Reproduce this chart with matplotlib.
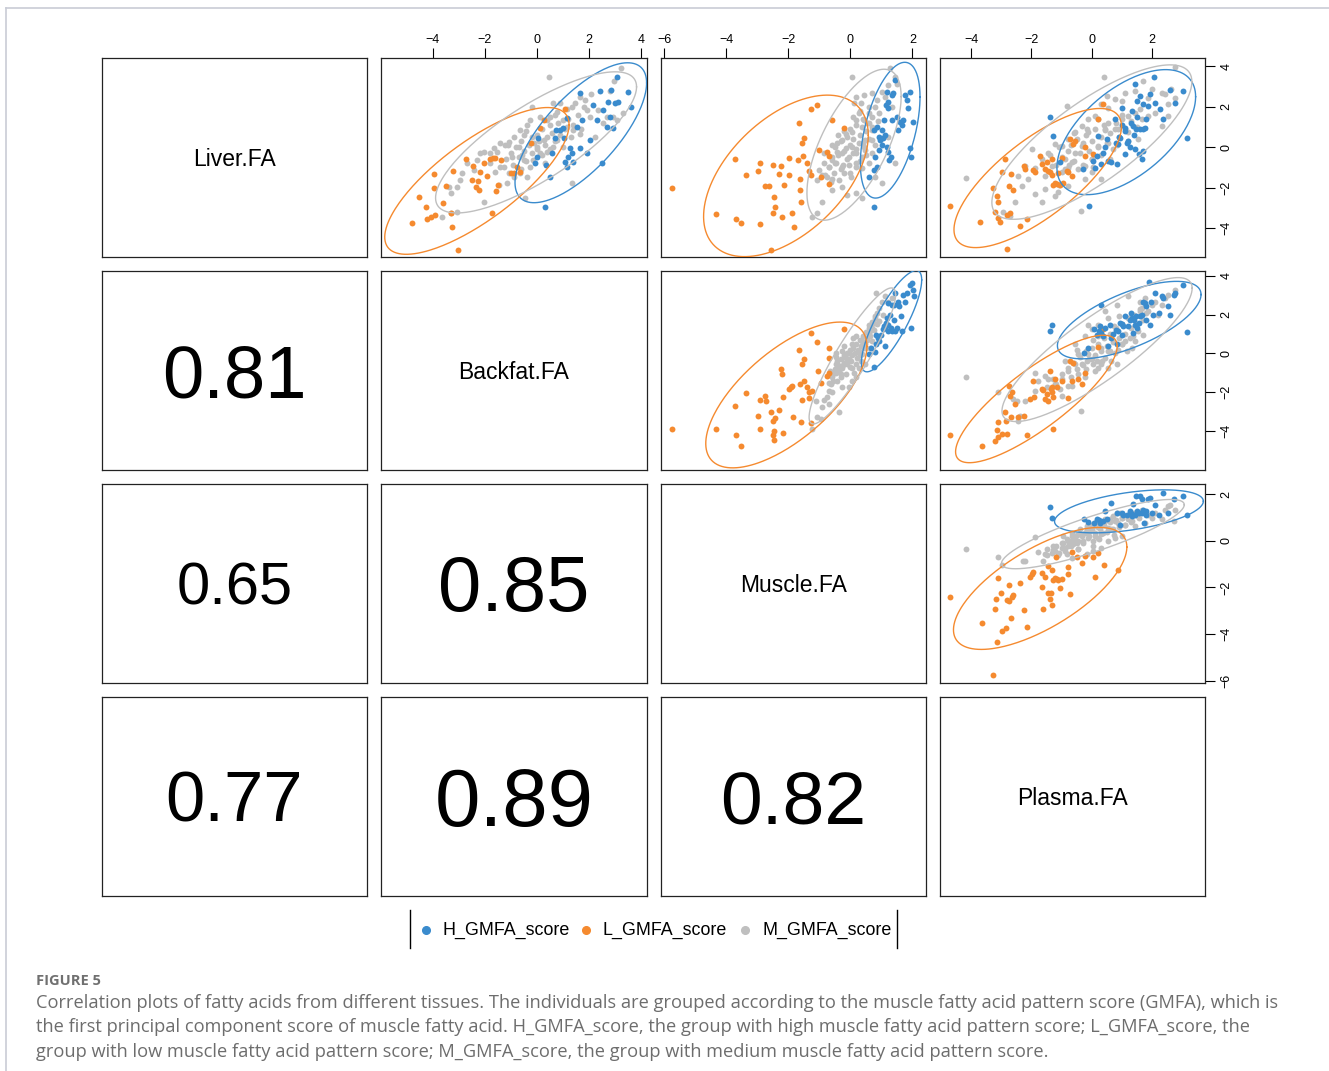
"""Pairs plot of tissue fatty-acid scores, grouped by muscle GMFA score."""
import numpy as np
import matplotlib.pyplot as plt
from matplotlib.lines import Line2D
from matplotlib.transforms import offset_copy

VARS = ["Liver.FA", "Backfat.FA", "Muscle.FA", "Plasma.FA"]
LIMITS = [(-5.43, 4.40), (-6.0, 4.24), (-6.1, 2.44), (-5.03, 3.75)]
TICKS = [[-4, -2, 0, 2, 4], [-4, -2, 0, 2, 4], [-6, -4, -2, 0, 2], [-4, -2, 0, 2]]

GROUPS = ["H_GMFA_score", "L_GMFA_score", "M_GMFA_score"]
COLORS = {"H_GMFA_score": "#3a8bcd", "L_GMFA_score": "#f58a2f", "M_GMFA_score": "#bfbfbf"}

# correlations shown in the lower triangle: (row, col) -> r
CORR_CELLS = [(1, 0), (2, 0), (2, 1), (3, 0), (3, 1), (3, 2)]
CORR_VALUES = [0.81, 0.65, 0.85, 0.77, 0.89, 0.82]

# ---- upper panels: (x, y) points ----
# Backfat (x) vs Liver (y)
BF_LIV_H = [(0.32, -2.98), (-0.09, -0.81), (0.00, -0.48), (0.06, 0.43), (0.36, -0.89), (0.51, -1.46),
            (0.60, -0.31), (0.70, 0.43), (0.73, 0.84), (0.89, 0.84), (1.00, 0.92), (1.06, 0.43),
            (1.09, -0.72), (1.15, -0.97), (1.15, 1.45), (1.21, -0.48), (1.28, -0.07), (1.34, -0.31),
            (1.41, -0.72), (1.53, 1.00), (1.66, -0.07), (1.66, 2.68), (1.73, 1.33), (1.92, -0.31),
            (2.04, 0.35), (2.17, 2.07), (2.30, 1.33), (2.43, 2.78), (2.49, -0.81), (2.56, 1.83),
            (2.69, 1.00), (2.75, 2.24), (2.85, 2.81), (2.94, 0.92), (3.00, 2.16), (3.09, 3.44),
            (3.13, 2.24), (3.51, 2.73), (3.64, 1.96), (2.81, 1.50)]
BF_LIV_L = [(-4.82, -3.74), (-4.54, -2.45), (-4.26, -2.98), (-4.22, -3.57), (-4.06, -3.47), (-3.96, -1.33),
            (-3.96, -2.01), (-3.94, -3.36), (-3.62, -2.75), (-3.51, -1.91), (-3.32, -3.28), (-3.28, -3.97),
            (-3.23, -1.17), (-3.03, -5.09), (-2.71, -0.61), (-2.47, -0.92), (-2.49, -1.63), (-2.34, -1.96),
            (-2.26, -1.66), (-2.24, -2.14), (-2.17, -1.22), (-2.04, -0.77), (-1.92, -1.43), (-1.79, -0.59),
            (-1.69, -0.54), (-1.73, -3.28), (-1.60, -0.56), (-1.56, -2.17), (-1.50, -1.86), (-1.38, -0.64),
            (-1.00, -1.30), (-0.89, -1.28), (-0.77, -0.97), (-0.66, -1.25), (-0.22, 0.18), (0.13, 0.94),
            (0.26, 1.33), (1.09, 1.89)]
BF_LIV_M = [(0.45, 3.44), (3.23, 3.92), (2.98, 3.26), (2.81, 2.78), (2.07, 2.62), (1.85, 2.32), (1.66, 2.45),
            (1.47, 2.19), (1.34, 1.96), (1.15, 1.86), (0.89, 2.16), (0.64, 2.16), (0.77, 1.74), (0.51, 1.50),
            (0.38, 1.33), (0.13, 1.50), (-0.19, 1.99), (-0.26, 1.33), (-0.38, 1.09), (-0.51, 0.59),
            (-0.64, 0.84), (-0.89, 0.51), (-1.09, 0.26), (-1.21, 0.10), (-1.41, 0.18), (-1.53, -0.23),
            (-1.66, -0.07), (-1.79, -0.31), (-2.04, -0.23), (-2.17, -0.31), (-2.30, -0.64), (-2.43, -1.14),
            (-2.68, -0.81), (-2.88, -1.30), (-2.94, -1.63), (-3.07, -1.96), (-3.32, -2.29), (-3.39, -1.96),
            (-3.64, -3.44), (-3.32, -3.28), (-3.07, -3.19), (-2.02, -2.70), (-1.47, -1.88), (-1.15, -1.79),
            (-0.89, -1.47), (-0.64, -1.30), (-0.45, -2.54), (-0.38, -1.47), (-0.26, -0.97), (-0.13, -0.64),
            (0.13, -0.31), (0.38, -0.23), (0.64, 0.02), (0.77, 0.35), (1.02, 1.33), (1.15, 1.00), (1.41, 0.84),
            (1.66, 0.67), (1.92, 1.83), (2.04, 1.50), (2.24, 0.51), (2.36, 1.83), (2.56, 1.17), (2.69, 1.50),
            (2.94, 1.50), (3.07, 1.33), (3.32, 1.66), (1.34, -1.79), (-0.58, -0.39), (-0.70, 0.02),
            (-0.96, -0.48), (0.00, 0.02), (0.26, 0.35), (-0.51, -0.64), (-1.28, -0.97), (-1.60, -1.22),
            (-1.09, -1.30)]
# dense core of the grey cloud (overlapping points)
BF_LIV_M += [(-1.2, -0.6), (-1.0, -0.3), (-0.9, -0.9), (-0.8, 0.0), (-0.7, -0.5), (-0.6, 0.3), (-0.5, -0.2),
             (-0.4, -0.7), (-0.3, 0.1), (-0.2, 0.5), (-0.2, -0.3), (-0.1, 0.2), (0.0, -0.1), (0.0, 0.6),
             (0.1, 0.3), (0.2, -0.4), (0.2, 0.9), (0.3, 0.1), (0.4, 0.5), (0.5, 1.1), (0.5, -0.1), (0.6, 0.7),
             (0.7, 0.3), (0.8, 1.2), (0.9, 0.6), (1.0, 0.0), (1.1, 0.9), (1.2, 1.4), (1.3, 0.5), (1.4, 1.1),
             (1.6, 1.6), (1.7, 0.9), (-1.4, -1.0), (-1.1, 0.1), (-0.6, -1.1), (0.3, -0.8), (0.7, 1.6),
             (1.8, 2.0), (-1.8, -0.8), (-0.4, 0.8)]

# Muscle (x) vs Liver (y)
MU_LIV_H = [(0.78, -2.98), (0.59, -1.47), (0.75, -1.14), (0.81, -0.48), (0.86, -0.97), (0.91, -0.15),
            (0.93, 0.51), (0.97, 0.35), (1.02, 0.10), (1.07, 0.43), (1.13, 0.59), (1.18, 0.02), (1.23, -0.23),
            (1.26, -0.64), (1.31, -0.48), (1.10, 1.33), (1.15, 2.07), (1.20, 1.91), (1.23, 2.24), (1.34, 2.57),
            (1.39, 2.65), (1.18, 2.73), (1.45, 3.31), (1.50, 1.50), (1.55, 0.84), (1.61, 1.25), (1.66, 1.09),
            (1.71, 1.33), (1.77, 2.57), (1.82, 2.32), (1.87, 1.91), (1.93, 2.73), (1.96, -0.48), (1.93, -0.07),
            (2.03, 1.25), (0.86, 1.00), (0.75, 0.84), (1.34, 1.33), (1.02, 0.84)]
MU_LIV_L = [(-5.73, -2.04), (-4.34, -3.31), (-3.73, -0.61), (-3.67, -3.57), (-3.51, -3.74), (-3.35, -1.38),
            (-2.98, -1.17), (-2.91, -3.80), (-2.90, -0.77), (-2.74, -1.91), (-2.61, -1.93), (-2.50, -3.28),
            (-2.48, -0.89), (-2.45, -2.45), (-2.43, -2.98), (-2.29, -1.33), (-2.23, -0.94), (-2.20, -3.47),
            (-2.15, -1.88), (-1.97, -1.38), (-1.97, -0.56), (-1.88, -3.24), (-1.82, -3.93), (-1.65, 1.17),
            (-1.63, -1.60), (-1.62, -2.12), (-1.58, -2.70), (-1.54, 0.21), (-1.52, -0.44), (-1.49, 0.43),
            (-1.38, -0.81), (-1.33, -1.17), (-1.27, 1.86), (-1.27, -1.38), (-1.06, 2.07), (-1.01, -0.15),
            (-0.95, -1.47), (-0.74, -0.23), (-0.69, -1.83), (-0.69, -0.44), (-0.58, 1.33), (-0.19, 0.95),
            (-2.55, -5.09), (-1.67, -0.64)]
MU_LIV_M = [(0.04, 3.44), (1.29, 3.92), (1.45, 3.44), (1.23, 3.06), (1.02, 2.73), (0.86, 2.32), (0.70, 2.65),
            (0.59, 1.99), (0.43, 2.57), (0.17, 2.49), (0.11, 2.16), (0.27, 1.66), (0.43, 1.33), (0.59, 1.17),
            (0.70, 1.50), (0.91, 1.66), (0.38, 1.00), (0.17, 1.33), (0.06, 0.76), (-0.15, 0.67), (-0.26, 0.35),
            (-0.42, 0.18), (-0.58, 0.10), (-0.15, -0.07), (0.06, 0.02), (0.27, 0.18), (0.49, 0.35), (0.70, 0.35),
            (0.17, -0.31), (-0.05, -0.48), (-0.26, -0.31), (-0.42, -0.23), (-0.58, -0.64), (-0.69, -0.97),
            (-0.85, -0.81), (-1.01, -1.14), (-1.06, -1.63), (-0.90, -1.38), (-0.74, -1.47), (-0.53, -1.30),
            (-0.26, -0.97), (-0.05, -0.89), (0.17, -0.81), (0.38, -1.05), (0.59, -0.81), (-0.37, -1.63),
            (-0.58, -2.12), (-0.26, -1.96), (0.01, -1.47), (-0.90, -2.70), (-1.22, -3.44), (-1.06, -3.28),
            (0.38, -2.54), (0.17, -2.29), (-0.10, -2.37), (0.81, -1.47), (1.02, -1.79), (1.23, 0.51),
            (1.45, -0.81), (1.34, 1.99), (1.50, 3.14), (1.13, 2.49), (0.70, 0.84), (0.49, -0.15), (-0.85, -0.31),
            (-0.47, -0.81), (-0.63, -1.71), (-0.21, -1.30), (0.38, -0.48), (0.33, 2.16)]
MU_LIV_M += [(-0.7, -1.0), (-0.6, -0.5), (-0.5, -0.8), (-0.5, 0.0), (-0.4, -0.4), (-0.3, 0.3), (-0.3, -1.1),
             (-0.2, -0.2), (-0.1, 0.5), (-0.1, -0.6), (0.0, 0.1), (0.0, 0.9), (0.1, -0.3), (0.1, 0.4), (0.2, 1.1),
             (0.2, -0.1), (0.3, 0.6), (0.3, -0.7), (0.4, 0.2), (0.4, 1.4), (0.5, 0.8), (0.5, -0.4), (0.6, 0.4),
             (0.6, 1.7), (0.7, 1.0), (0.8, 0.1), (0.9, 1.3), (-0.8, -1.4), (-0.2, 0.8), (0.2, -1.0), (0.7, -0.3),
             (-0.4, 0.6), (0.0, -1.3), (0.3, 1.8), (0.8, 2.0), (-0.6, -1.6), (0.1, 1.5), (0.45, 0.0),
             (-0.25, -0.9), (0.55, 1.2)]

# Plasma (x) vs Liver (y)
PL_LIV_H = [(-1.39, 1.50), (-1.28, 0.55), (-1.06, -0.76), (-0.28, -1.06), (-0.08, -2.93), (0.05, -0.68),
            (0.10, -1.01), (0.16, -0.43), (0.21, 0.55), (0.32, -0.84), (0.38, -0.27), (0.43, -0.02), (0.49, 0.39),
            (0.54, -0.68), (0.65, -0.76), (0.76, 1.37), (0.82, -0.84), (0.87, 0.14), (0.93, 0.47), (0.99, 1.95),
            (1.10, -0.35), (1.15, 0.22), (1.32, 1.78), (1.37, 1.04), (1.43, 3.10), (1.43, -0.11), (1.48, 0.88),
            (1.51, 2.28), (1.56, -0.35), (1.59, 2.52), (1.65, -0.60), (1.70, -0.19), (1.70, 2.11), (1.76, 0.96),
            (1.78, 1.37), (1.87, 2.03), (1.92, 2.60), (2.07, 3.47), (2.09, 2.19), (2.25, 1.90), (2.36, 1.37),
            (2.58, 2.82), (2.75, 2.19), (3.03, 2.77), (3.16, 0.47), (1.70, 0.88), (1.10, 0.96),
            (0.9, 0.5), (1.1, 0.8), (1.2, 0.3), (1.3, 1.2), (1.4, 0.6), (1.5, 1.5), (1.0, 1.1), (1.6, 0.9),
            (0.8, 0.2), (1.25, 0.0)]
PL_LIV_L = [(-4.69, -2.93), (-3.70, -3.68), (-3.26, -2.00), (-3.21, -3.23), (-3.15, -2.40), (-3.12, -2.70),
            (-3.10, -3.49), (-3.04, -3.68), (-2.99, -1.22), (-2.88, -0.60), (-2.82, -3.34), (-2.76, -1.91),
            (-2.71, -3.26), (-2.68, -1.34), (-2.60, -2.11), (-2.38, -3.91), (-2.21, -1.09), (-2.16, -3.55),
            (-1.94, -1.12), (-1.88, -1.22), (-1.72, -0.43), (-1.66, -0.84), (-1.55, -1.09), (-1.50, -0.76),
            (-1.44, -1.17), (-1.39, -1.25), (-1.33, -0.60), (-1.31, -1.39), (-1.28, -1.86), (-1.22, -1.75),
            (-1.17, -1.83), (-1.11, -1.30), (-1.06, -1.86), (-1.00, -0.52), (-0.95, -1.75), (-0.83, -1.17),
            (-0.78, -1.25), (-0.72, 0.42), (-0.67, -1.42), (-0.61, 0.14), (-0.56, 0.31), (-0.23, -0.02),
            (-0.23, -0.43), (0.05, -0.35), (0.21, 1.37), (0.38, 2.11), (-2.82, -5.03), (-2.24, -0.93)]
PL_LIV_M = [(-4.18, -1.55), (-1.66, -2.70), (-1.13, -2.24), (-1.09, -1.88), (-0.83, 2.03), (-0.37, -3.18),
            (0.41, 3.47), (0.49, 2.52), (2.75, 3.95), (2.77, 2.44), (2.64, 2.85), (2.42, 2.60), (2.31, 2.69),
            (1.98, 2.85), (1.70, 3.26), (1.43, 2.77), (1.10, 2.69), (0.99, 2.28), (0.76, 2.36), (0.54, 1.95),
            (0.32, 2.11), (0.10, 1.54), (-0.12, 1.37), (-0.34, 1.04), (-0.56, 0.72), (-0.78, 0.39), (-1.00, 0.06),
            (-1.22, 0.14), (-1.44, -0.27), (-1.66, -0.60), (-1.88, -1.01), (-1.99, -0.11), (-2.10, -1.58),
            (-2.21, -0.93), (-2.43, -1.42), (-2.32, -1.91), (-2.54, -2.73), (-2.71, -3.39), (-2.93, -3.22),
            (-1.88, -2.32), (-1.55, -1.42), (-1.33, -0.93), (-0.89, -0.60), (-0.67, -0.76), (-0.45, -1.09),
            (-0.23, -0.93), (-0.01, -0.60), (0.21, 0.06), (0.43, 0.88), (0.54, 1.21), (0.76, 0.88), (0.99, 1.37),
            (1.21, 1.54), (1.43, 1.70), (1.65, 1.37), (1.87, 1.54), (2.09, 1.70), (2.31, 1.04), (2.53, 1.54),
            (2.53, 2.11), (1.87, 2.44), (-0.12, 0.72), (-0.34, 0.06), (-0.56, -0.27), (-0.78, -1.01),
            (-1.00, -1.25), (-0.01, -1.25), (0.54, 0.22), (0.87, 0.88), (1.21, 0.72), (-0.23, -1.58),
            (-0.78, -1.91), (-1.22, -2.40), (-1.55, -2.08), (0.32, -1.58), (1.54, 0.39)]
PL_LIV_M += [(-1.2, -0.9), (-1.0, -0.5), (-0.9, -1.1), (-0.8, -0.2), (-0.7, 0.1), (-0.6, -0.7), (-0.5, 0.4),
             (-0.4, -0.3), (-0.3, 0.2), (-0.3, -0.9), (-0.2, 0.6), (-0.1, -0.2), (0.0, 0.3), (0.0, -0.6),
             (0.1, 0.9), (0.2, 0.0), (0.3, 0.5), (0.3, -0.4), (0.4, 1.1), (0.5, 0.2), (0.6, 0.7), (0.7, -0.1),
             (0.8, 1.2), (0.9, 0.5), (1.0, 1.6), (1.1, 0.9), (1.2, 0.3), (1.3, 1.3), (-1.4, -0.4), (-0.6, 0.7),
             (0.2, 1.4), (0.6, -0.6), (1.5, 1.0), (-1.1, 0.0), (0.45, 0.85), (-0.15, 0.9), (0.85, 0.1),
             (-0.75, -0.9), (1.6, 1.9), (0.05, -1.0)]

# Muscle (x) vs Backfat (y)
MU_BF_H = [(0.75, -0.70), (0.59, -0.05), (0.68, 0.29), (0.81, 0.09), (0.83, 0.46), (0.89, 0.80), (0.93, 0.63),
           (1.00, 0.97), (1.04, 1.23), (1.08, 1.40), (1.13, 1.31), (1.15, 1.57), (1.18, 1.82), (1.21, 1.14),
           (1.23, 1.48), (1.27, 1.99), (1.32, 1.31), (1.36, 1.14), (1.40, 1.74), (1.42, 2.50), (1.45, 1.14),
           (1.50, 1.31), (1.53, 2.67), (1.58, 2.42), (1.62, 1.91), (1.66, 1.14), (1.71, 3.01), (1.77, 2.67),
           (1.82, 3.10), (1.93, 3.52), (1.98, 3.61), (2.03, 3.27), (2.06, 2.93), (1.95, 1.31), (1.23, 2.59),
           (1.34, 2.50), (1.13, 0.37), (0.83, 0.97), (1.45, 3.10)]
MU_BF_L = [(-5.73, -3.91), (-4.34, -3.91), (-3.73, -2.69), (-3.67, -4.22), (-3.51, -4.78), (-3.35, -2.06),
           (-2.98, -3.20), (-2.91, -2.40), (-2.90, -3.88), (-2.74, -2.18), (-2.55, -3.00), (-2.50, -3.46),
           (-2.48, -4.22), (-2.45, -4.48), (-2.43, -3.34), (-2.29, -2.91), (-2.23, -0.82), (-2.20, -1.07),
           (-2.18, -4.09), (-1.97, -1.84), (-1.91, -1.75), (-1.88, -1.67), (-1.83, -3.29), (-1.65, 0.20),
           (-1.63, -1.58), (-1.58, -3.54), (-1.54, -2.40), (-1.54, -0.56), (-1.49, -0.31), (-1.49, -1.41),
           (-1.38, -1.75), (-1.33, -2.01), (-1.27, 1.06), (-1.33, -2.31), (-1.22, -1.92), (-1.06, 0.58),
           (-1.03, -0.90), (-0.95, -1.50), (-0.74, -1.16), (-0.69, -0.99), (-0.67, -0.22), (-0.69, 0.29),
           (-0.19, 1.28), (-2.18, -2.23), (-1.27, -3.59), (-2.47, -3.97), (-2.71, -2.43)]
MU_BF_M = [(-1.22, -3.88), (-1.06, -3.29), (-0.95, -3.37), (-0.85, -2.40), (-0.74, -2.26), (-0.69, -1.92),
           (-0.63, -1.58), (-0.58, -1.24), (-0.53, -0.99), (-0.47, -0.56), (-0.42, -0.39), (-0.37, -0.82),
           (-0.31, -1.07), (-0.26, -0.73), (-0.21, -0.48), (-0.15, -0.22), (-0.10, -0.56), (-0.05, 0.03),
           (0.01, -0.39), (0.06, -0.73), (0.11, -0.99), (0.17, -0.56), (0.22, -0.22), (0.27, 0.12), (0.33, -0.39),
           (0.38, -0.05), (0.43, 0.29), (0.49, 0.46), (0.54, 0.71), (0.59, 0.97), (0.65, 1.14), (0.70, 1.31),
           (0.75, 1.57), (0.81, 1.82), (0.86, 2.08), (0.91, 2.33), (1.02, 2.67), (1.13, 2.93), (1.23, 2.67),
           (0.83, 3.10), (0.17, 0.89), (0.06, 0.46), (-0.26, 0.12), (-0.42, -1.41), (-0.69, -2.60), (-0.37, -3.03),
           (-0.58, -2.01), (-0.15, -1.07), (0.06, -1.41), (0.27, -0.73), (0.38, 0.63), (0.70, 0.63), (0.59, 1.48),
           (0.91, 1.65), (1.07, 1.99), (1.34, 2.84), (-0.05, -1.75), (-0.26, -1.75), (-0.90, -2.77),
           (-1.11, -2.43), (-0.47, 0.03), (0.49, -0.56), (0.17, -1.24)]
MU_BF_M += [(-0.7, -1.5), (-0.6, -1.1), (-0.55, -1.4), (-0.5, -0.8), (-0.45, -1.0), (-0.4, -0.6), (-0.35, -0.9),
            (-0.3, -0.3), (-0.25, -0.6), (-0.2, -0.1), (-0.15, -0.5), (-0.1, 0.0), (-0.05, -0.3), (0.0, 0.2),
            (0.05, -0.1), (0.1, 0.3), (0.15, 0.0), (0.2, 0.5), (0.25, 0.2), (0.3, 0.7), (0.35, 0.4), (0.4, 0.9),
            (0.45, 0.5), (0.5, 1.1), (0.55, 0.8), (0.6, 1.3), (0.65, 0.9), (0.7, 1.6), (0.75, 1.2), (0.8, 1.9),
            (-0.65, -0.9), (-0.3, -1.2), (0.0, -0.7), (0.3, -0.1), (0.5, 0.3), (0.1, 0.8), (-0.2, 0.4),
            (0.85, 1.5), (0.65, 0.3), (-0.45, -0.2)]

# Plasma (x) vs Backfat (y)
PL_BF_H = [(-1.39, 1.17), (-1.31, 1.48), (-0.25, 0.03), (-0.12, 0.29), (0.08, 1.23), (0.16, 0.97), (0.24, 1.14),
           (0.27, 1.40), (0.32, 1.06), (0.38, 0.89), (0.43, 1.31), (0.54, 0.37), (0.60, 1.48), (0.65, 0.80),
           (0.85, 0.46), (0.87, 1.14), (0.93, 1.57), (0.99, 0.97), (1.04, 1.40), (1.26, 1.74), (1.32, 1.82),
           (1.37, 1.06), (1.43, 1.48), (1.48, 1.91), (1.51, 1.31), (1.56, 1.57), (1.65, 1.99), (1.70, 2.67),
           (1.76, 2.59), (1.78, 2.42), (1.81, 1.74), (1.92, 1.48), (1.96, 2.67), (2.03, 1.99), (2.09, 3.10),
           (2.22, 2.08), (2.31, 2.93), (2.36, 2.84), (2.53, 2.42), (2.58, 1.99), (2.73, 3.01), (2.77, 3.10),
           (3.03, 3.52), (3.16, 1.09), (1.90, 3.66), (0.32, 2.50),
           (0.8, 1.2), (1.0, 1.5), (1.2, 1.4), (1.4, 1.7), (1.6, 1.9), (1.1, 1.9), (1.3, 2.1), (0.7, 1.0)]
PL_BF_L = [(-4.69, -4.22), (-3.65, -4.78), (-3.21, -4.51), (-3.15, -3.93), (-3.12, -3.54), (-3.10, -4.31),
           (-2.99, -4.14), (-2.88, -3.03), (-2.85, -3.46), (-2.76, -1.67), (-2.71, -2.18), (-2.68, -3.29),
           (-2.63, -2.01), (-2.54, -2.60), (-2.43, -3.29), (-2.24, -3.20), (-2.16, -4.22), (-2.05, -2.35),
           (-1.94, -1.41), (-1.90, -2.26), (-1.66, -1.84), (-1.61, -1.89), (-1.55, -2.35), (-1.50, -2.09),
           (-1.44, -2.43), (-1.35, -1.84), (-1.33, -1.72), (-1.31, -2.01), (-1.28, -2.26), (-1.22, -1.33),
           (-1.17, -1.75), (-1.00, -1.41), (-0.78, -2.31), (-0.72, -0.39), (-0.67, -1.41), (-0.61, -0.48),
           (-0.45, -1.33), (-0.34, -1.58), (-0.23, -0.99), (0.21, 0.32), (0.38, 1.23), (-1.28, -3.88),
           (-1.39, -0.90), (-2.82, -4.14)]
PL_BF_M = [(-4.18, -1.24), (-3.10, -2.01), (-2.60, -2.35), (-2.49, -2.43), (-2.38, -3.20), (-1.88, -0.99),
           (-1.77, -1.41), (-1.55, -1.16), (-1.50, -1.75), (-1.28, -1.33), (-1.06, -1.84), (-1.00, -2.18),
           (-0.78, -1.67), (-0.67, -1.67), (-0.45, -1.07), (-0.37, -2.94), (-0.34, -0.56), (-0.17, -0.39),
           (-0.12, -0.05), (-0.01, -0.31), (0.05, -0.56), (0.10, -0.90), (0.16, -0.39), (0.21, -0.73),
           (0.32, -0.56), (0.43, -0.22), (0.54, 0.12), (0.65, -0.39), (0.76, 0.03), (0.82, -0.56), (0.87, 0.20),
           (0.99, 0.46), (1.10, 0.63), (1.15, 0.12), (1.32, 0.29), (1.37, 0.89), (1.43, 0.63), (1.54, 1.14),
           (1.59, 2.16), (1.65, 2.33), (1.70, 0.97), (1.76, 2.84), (1.87, 2.16), (1.98, 2.50), (2.09, 2.67),
           (2.20, 1.99), (2.31, 2.50), (2.42, 2.84), (2.53, 3.01), (2.75, 3.27), (1.59, 2.67), (1.21, 2.93),
           (0.82, 2.50), (0.54, 1.82), (0.43, 2.16), (0.21, 1.48), (-0.01, 1.23), (-0.23, 0.89), (-0.45, -0.05),
           (-0.56, -0.56), (-0.78, -0.73), (-1.00, -1.07), (-1.22, -1.58), (-1.44, -1.33), (-1.88, -1.92),
           (-2.21, -2.43), (-2.43, -3.46), (-0.23, -1.24), (0.32, 0.29), (-0.56, 0.46), (-0.12, 1.48),
           (0.54, -0.73), (1.32, 1.99)]
PL_BF_M += [(-1.0, -1.3), (-0.8, -0.9), (-0.7, -1.2), (-0.6, -0.5), (-0.5, -0.8), (-0.4, -0.2), (-0.3, -0.6),
            (-0.2, 0.1), (-0.1, -0.3), (0.0, 0.3), (0.1, -0.1), (0.2, 0.5), (0.3, 0.1), (0.4, 0.8), (0.5, 0.4),
            (0.6, 1.0), (0.7, 0.6), (0.8, 1.3), (0.9, 0.8), (1.0, 1.5), (1.1, 1.0), (1.2, 1.8), (1.3, 1.3),
            (1.4, 2.0), (1.5, 1.5), (1.6, 2.3), (1.7, 1.7), (-0.9, -0.4), (-0.2, -0.8), (0.2, 0.9), (0.6, 0.1),
            (1.0, 0.5), (0.9, 1.9), (-0.5, 0.2), (0.35, -0.4), (1.8, 2.1), (0.05, 0.7), (0.75, 1.4),
            (-1.2, -1.6), (1.25, 0.8)]

# Plasma (x) vs Muscle (y)
PL_MU_H = [(-1.39, 1.46), (-1.31, 0.99), (-0.25, 0.94), (-0.12, 0.80), (0.08, 0.77), (0.16, 0.92), (0.24, 0.89),
           (0.27, 0.77), (0.38, 0.84), (0.43, 1.27), (0.49, 0.94), (0.65, 1.63), (0.85, 1.20), (0.93, 0.66),
           (0.99, 1.20), (1.04, 1.09), (1.15, 1.13), (1.26, 1.27), (1.32, 1.17), (1.37, 1.60), (1.43, 1.09),
           (1.48, 1.94), (1.51, 1.27), (1.56, 1.20), (1.59, 1.94), (1.65, 1.80), (1.70, 1.34), (1.74, 0.77),
           (1.78, 1.27), (1.81, 1.13), (1.87, 1.80), (1.92, 1.84), (2.00, 1.20), (2.09, 1.56), (2.22, 1.13),
           (2.36, 2.06), (2.53, 1.20), (2.73, 1.80), (3.03, 1.94), (3.16, 1.09), (1.32, 1.06), (1.65, 1.20)]
PL_MU_L = [(-4.69, -2.43), (-3.65, -3.53), (-3.26, -5.76), (-3.21, -2.91), (-3.18, -2.48), (-3.15, -4.36),
           (-3.12, -1.58), (-3.01, -2.22), (-2.85, -3.72), (-2.82, -2.53), (-2.76, -1.91), (-2.74, -2.58),
           (-2.68, -3.33), (-2.65, -2.43), (-2.60, -2.34), (-2.38, -1.82), (-2.24, -2.96), (-2.16, -3.68),
           (-2.05, -1.54), (-1.99, -1.44), (-1.94, -1.34), (-1.66, -1.96), (-1.61, -2.91), (-1.55, -1.54),
           (-1.46, -2.22), (-1.44, -1.08), (-1.39, -2.48), (-1.35, -2.22), (-1.33, -2.76), (-1.31, -1.25),
           (-1.28, -1.68), (-1.22, -1.58), (-1.20, -0.68), (-1.17, -1.65), (-1.11, -1.68), (-1.06, -2.01),
           (-1.00, -1.65), (-0.78, -1.11), (-0.78, -1.44), (-0.72, -2.29), (-0.67, -0.48), (-0.50, -0.68),
           (-0.34, -0.97), (-0.23, -0.65), (0.05, -0.68), (0.10, -1.54), (0.21, -0.51), (0.41, -1.05),
           (0.87, -1.25), (-2.99, -3.86), (-1.64, -1.37)]
PL_MU_M = [(-4.18, -0.37), (-3.10, -0.68), (-2.99, -1.05), (-2.27, -0.87), (-2.21, -0.87), (-1.88, 0.17),
           (-1.77, -0.48), (-1.61, -0.87), (-1.55, -0.58), (-1.50, -0.37), (-1.33, -0.51), (-1.28, -0.22),
           (-1.22, -0.44), (-1.11, -0.62), (-1.00, -0.30), (-0.95, -0.08), (-0.89, -0.44), (-0.83, 0.06),
           (-0.78, -0.22), (-0.72, -0.01), (-0.67, 0.20), (-0.61, -0.15), (-0.56, 0.09), (-0.50, 0.27),
           (-0.45, -0.01), (-0.39, 0.49), (-0.34, 0.20), (-0.28, -0.08), (-0.23, 0.35), (-0.17, 0.56),
           (-0.12, 0.13), (-0.06, 0.42), (-0.01, 0.70), (0.05, -0.20), (0.10, 0.35), (0.16, 0.63), (0.21, 0.13),
           (0.27, 0.49), (0.32, 0.70), (0.38, 0.35), (0.43, 0.84), (0.54, 0.56), (0.60, 0.92), (0.65, 0.49),
           (0.71, 1.06), (0.76, 0.84), (0.82, 1.20), (0.87, 0.77), (0.99, 0.99), (1.10, 0.70), (1.21, 0.92),
           (1.32, 0.84), (1.43, 0.63), (1.54, 1.06), (1.65, 1.34), (1.76, 0.77), (1.87, 1.13), (1.98, 0.99),
           (2.09, 1.20), (2.31, 0.92), (2.42, 1.34), (2.53, 1.49), (2.58, 1.56), (2.75, 1.34), (2.73, 0.84),
           (0.99, 0.20), (0.76, 0.13), (0.54, -0.01), (0.32, -0.30), (-0.45, -0.37), (-0.67, -0.72),
           (-0.83, -0.58), (-0.17, -0.58), (0.05, -0.44)]
PL_MU_M += [(-1.3, -0.4), (-1.2, -0.2), (-1.1, -0.5), (-1.0, -0.1), (-0.9, -0.3), (-0.8, 0.0), (-0.7, -0.2),
            (-0.6, 0.1), (-0.5, -0.1), (-0.4, 0.3), (-0.3, 0.0), (-0.2, 0.4), (-0.1, 0.2), (0.0, 0.5), (0.1, 0.2),
            (0.2, 0.6), (0.3, 0.3), (0.4, 0.7), (0.5, 0.4), (0.6, 0.8), (0.7, 0.5), (0.8, 0.9), (0.9, 0.6),
            (1.0, 1.0), (1.1, 0.7), (1.2, 1.1), (1.3, 0.8), (1.4, 1.2), (-0.95, 0.2), (-0.45, -0.35), (0.05, 0.0),
            (0.45, 0.95), (0.25, 0.1), (-0.15, 0.65), (0.75, 0.25), (1.55, 1.0), (-0.65, 0.35), (0.95, 1.2),
            (-1.5, -0.6), (0.15, 0.8)]

UPPER = {
    (0, 1): (BF_LIV_H, BF_LIV_L, BF_LIV_M),
    (0, 2): (MU_LIV_H, MU_LIV_L, MU_LIV_M),
    (0, 3): (PL_LIV_H, PL_LIV_L, PL_LIV_M),
    (1, 2): (MU_BF_H, MU_BF_L, MU_BF_M),
    (1, 3): (PL_BF_H, PL_BF_L, PL_BF_M),
    (2, 3): (PL_MU_H, PL_MU_L, PL_MU_M),
}

W, H = 1329, 1071
COL_X = [(102, 367), (381, 647), (661, 926), (940, 1205)]
ROW_Y = [(58, 257), (271, 470), (484, 683), (697, 896)]
FONT = "Liberation Sans"
CAP_FONT = ["Open Sans", "DejaVu Sans"]
CAP_GRAY = "#6d6d6d"


def data_ellipse(pts, level=0.95, n=240):
    """Normal-theory data ellipse from the sample mean and covariance."""
    pts = np.asarray(pts, dtype=float)
    mu = pts.mean(axis=0)
    chol = np.linalg.cholesky(np.cov(pts, rowvar=False))
    r = np.sqrt(-2.0 * np.log(1.0 - level))
    t = np.linspace(0, 2 * np.pi, n)
    circ = np.vstack([np.cos(t), np.sin(t)]) * r
    return mu[:, None] + chol @ circ


def panel_axes(fig, i, j):
    x0, x1 = COL_X[j]
    y0, y1 = ROW_Y[i]
    ax = fig.add_axes([x0 / W, 1 - y1 / H, (x1 - x0) / W, (y1 - y0) / H])
    for sp in ax.spines.values():
        sp.set_linewidth(0.9)
        sp.set_color("#222222")
    ax.set_xticks([])
    ax.set_yticks([])
    return ax


def centered_text(ax, txt, size):
    # put the cap-height middle of the text on the panel centre
    tr = offset_copy(ax.transAxes, fig=ax.figure, y=-0.358 * size, units="points")
    ax.text(0.5, 0.5, txt, ha="center", va="baseline", fontsize=size, family=FONT, transform=tr)


fig = plt.figure(figsize=(W / 100, H / 100), dpi=100)
fig.patch.set_facecolor("white")

# page card border
border = "#c9ccd6"
fig.add_artist(Line2D([6 / W, 6 / W], [0, 1 - 8 / H], color=border, lw=1.2, transform=fig.transFigure))
fig.add_artist(Line2D([6 / W, 1], [1 - 8 / H, 1 - 8 / H], color=border, lw=1.2, transform=fig.transFigure))

corr = dict(zip(CORR_CELLS, CORR_VALUES))
n = len(VARS)
for i in range(n):
    for j in range(n):
        ax = panel_axes(fig, i, j)
        if i == j:
            centered_text(ax, VARS[i], 16.5)
        elif i > j:
            r = corr[(i, j)]
            centered_text(ax, f"{r:.2f}", 66 * r)
        else:
            ax.set_xlim(*LIMITS[j])
            ax.set_ylim(*LIMITS[i])
            h_pts, l_pts, m_pts = UPPER[(i, j)]
            for g, pts in [("M_GMFA_score", m_pts), ("L_GMFA_score", l_pts), ("H_GMFA_score", h_pts)]:
                arr = np.asarray(pts)
                ax.scatter(arr[:, 0], arr[:, 1], s=18, color=COLORS[g], linewidths=0, zorder=2)
            for g, pts in zip(GROUPS, (h_pts, l_pts, m_pts)):
                ex, ey = data_ellipse(pts)
                ax.plot(ex, ey, color=COLORS[g], lw=1.0, zorder=3)
            if i == 0:
                ax.xaxis.tick_top()
                ax.set_xticks(TICKS[j])
                ax.tick_params(axis="x", length=7, width=0.8, pad=1.5, labelsize=9)
                for lab in ax.get_xticklabels():
                    lab.set_family(FONT)
            if j == n - 1:
                ax.yaxis.tick_right()
                ax.set_yticks(TICKS[i])
                ax.tick_params(axis="y", length=7, width=0.8, pad=4, labelsize=9, labelrotation=90)
                for lab in ax.get_yticklabels():
                    lab.set_family(FONT)
                    lab.set_verticalalignment("center")

# legend strip under the matrix
ly = 1 - 930 / H
for xpix in (410, 897):
    fig.add_artist(Line2D([xpix / W] * 2, [1 - 910 / H, 1 - 948 / H], color="black", lw=1.0,
                          transform=fig.transFigure))
leg_pos = [(426, 442), (586, 602), (745, 762)]
for g, (mx, tx) in zip(GROUPS, leg_pos):
    fig.add_artist(Line2D([mx / W], [ly], marker="o", markersize=5.5, color=COLORS[g], lw=0,
                          transform=fig.transFigure))
    fig.text(tx / W, ly, g, ha="left", va="center", fontsize=12.9, family=FONT)

# caption
fig.text(36 / W, 1 - 981 / H, "FIGURE 5", ha="left", va="center", fontsize=10.5, fontweight="bold",
         color="#707070", family=CAP_FONT)
CAPTION = [
    "Correlation plots of fatty acids from different tissues. The individuals are grouped according to the "
    "muscle fatty acid pattern score (GMFA), which is",
    "the first principal component score of muscle fatty acid. H_GMFA_score, the group with high muscle fatty "
    "acid pattern score; L_GMFA_score, the",
    "group with low muscle fatty acid pattern score; M_GMFA_score, the group with medium muscle fatty acid "
    "pattern score.",
]
for k, line in enumerate(CAPTION):
    fig.text(36 / W, 1 - (1003 + 24.5 * k) / H, line, ha="left", va="center", fontsize=13.15,
             color=CAP_GRAY, family=CAP_FONT)

fig.savefig("out.png", dpi=100)
